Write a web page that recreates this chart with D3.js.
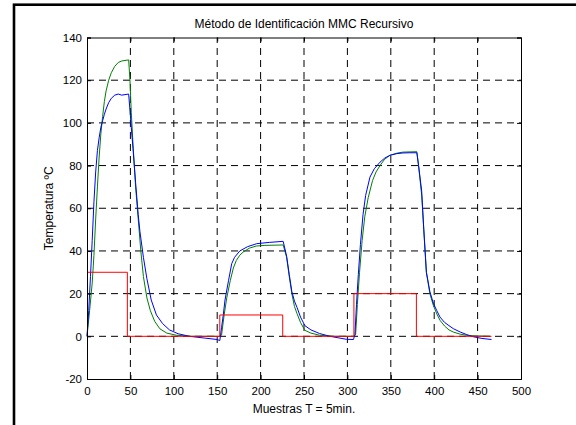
<!DOCTYPE html>
<html>
<head>
<meta charset="utf-8">
<script src="https://cdn.jsdelivr.net/npm/d3@7"></script>
<style>
body { margin: 0; background: #fff; }
text { font-family: Arial, "Liberation Sans", sans-serif; fill: #000; }
</style>
</head>
<body>
<script>
var w = 576;
var h = 425;
var padLeft = 87, padRight = 521, padTop = 37.5, padBottom = 379;

var xTicks = [0, 50, 100, 150, 200, 250, 300, 350, 400, 450, 500];
var yTicks = [-20, 0, 20, 40, 60, 80, 100, 120, 140];

// entrada (escalon)
var redX = [0, 46.5, 46.5, 153, 153, 225.5, 225.5, 307.5, 307.5, 379.5, 379.5, 466];
var redY = [30, 30, 0, 0, 10, 10, 0, 0, 20, 20, 0, 0];

// salida real
var greenX = [0, 3, 6, 8, 10, 12, 14, 16, 18, 20, 22, 25, 28, 32, 36, 40, 48,
    49.5, 51, 53, 56, 59, 62, 65, 69, 73, 78, 84, 92, 103, 120, 153,
    155, 158, 161, 165, 168.6, 172, 176, 180, 187, 195, 205, 226,
    230, 233, 236, 239, 242, 246, 251, 258, 268, 285, 308,
    309.5, 311.5, 314, 317, 320, 324, 329, 333, 337.6, 343, 349, 357, 364, 380,
    382, 385.6, 388, 391, 395, 399, 403, 406.7, 412, 417, 422, 430, 440, 465];
var greenY = [0, 12, 25, 38, 55, 70, 84, 95, 103, 110, 115, 120, 123.5, 126.5, 128.3, 129, 129.5,
    120, 105, 90, 70, 55, 40, 28, 18, 12, 7, 3.5, 1.5, 0.5, 0, 0,
    0.5, 10, 18, 26, 32, 35.5, 38, 39.5, 41.3, 42.3, 42.6, 42.8,
    37, 28, 20, 14, 10.6, 6.5, 2.8, 1.5, 0.5, 0, 0,
    1, 15, 30, 45, 56, 65, 73, 77, 80, 83, 84.8, 85.8, 86.3, 86.5,
    80, 66, 50, 30, 20, 14.5, 10.5, 7.5, 4.8, 3, 2, 1, 0.3, 0];

// salida estimada MMC
var blueX = [0, 2, 4, 6, 8, 10, 12, 14, 16, 18, 20, 22, 25, 28, 32, 36, 40, 48,
    49.5, 51, 53, 56, 59, 61, 65, 69, 74, 80, 87, 95, 105, 118, 135, 150, 153,
    155, 157, 159, 163, 166.7, 170, 176, 185, 195.5, 210, 226,
    230, 233, 236, 239, 242, 246, 251, 258, 268, 280, 299, 307,
    308.7, 310.5, 312.6, 315, 318, 321, 326, 331, 337.6, 343, 349, 357, 364, 372, 380,
    382, 385.6, 388, 391, 395, 399, 403, 406.7, 412, 417, 422, 430, 437.5, 445, 455, 466];
var blueY = [0, 12, 28, 45, 63, 77, 87, 93, 98, 101, 104, 106.5, 109.5, 111.5, 113, 113.5, 113, 113.5,
    106, 98, 88, 72, 57, 49, 37, 27, 17, 10, 6, 3, 1.2, 0, -0.8, -1.5, -2,
    4, 10, 17, 26, 34, 37, 40, 42, 43.4, 44, 44.5,
    37.5, 29, 21, 16.5, 13.5, 9, 5, 3, 1.3, 0, -1.4, -1.5,
    1, 15, 29, 43, 57, 66, 74.6, 78.5, 81.6, 83.5, 84.8, 85.6, 85.9, 86, 86,
    80, 68, 50, 30, 21, 15.5, 12, 9, 6.5, 5, 3.6, 2, 0.8, -0.2, -1, -1.5];

var svg = d3.select("body")
    .append("svg")
    .attr("width", w)
    .attr("height", h);

svg.append("rect")
    .attr("width", w)
    .attr("height", h)
    .attr("fill", "#fff");

// marco de la figura
svg.append("rect")
    .attr("x", 14)
    .attr("y", 4.7)
    .attr("width", 700)
    .attr("height", 600)
    .attr("fill", "none")
    .attr("stroke", "#000")
    .attr("stroke-width", 2.6);

var xScale = d3.scaleLinear()
    .domain([0, 500])
    .range([padLeft, padRight]);

var yScale = d3.scaleLinear()
    .domain([-20, 140])
    .range([padBottom, padTop]);

// rejilla
svg.selectAll(".vgrid")
    .data(xTicks.slice(1, -1))
    .enter()
    .append("line")
    .attr("class", "vgrid")
    .attr("x1", function (d) { return xScale(d); })
    .attr("x2", function (d) { return xScale(d); })
    .attr("y1", padBottom)
    .attr("y2", padTop)
    .attr("stroke", "#000")
    .attr("stroke-dasharray", "7,5");

svg.selectAll(".hgrid")
    .data(yTicks.slice(1, -1))
    .enter()
    .append("line")
    .attr("class", "hgrid")
    .attr("x1", padLeft)
    .attr("x2", padRight)
    .attr("y1", function (d) { return yScale(d); })
    .attr("y2", function (d) { return yScale(d); })
    .attr("stroke", "#000")
    .attr("stroke-dasharray", "7,5");

var line = d3.line()
    .x(function (d) { return xScale(d[0]); })
    .y(function (d) { return yScale(d[1]); });

function series(xs, ys) {
    return xs.map(function (x, i) { return [x, ys[i]]; });
}

svg.append("path")
    .datum(series(greenX, greenY))
    .attr("d", line)
    .attr("fill", "none")
    .attr("stroke", "#008000")
    .attr("stroke-width", 1);

svg.append("path")
    .datum(series(blueX, blueY))
    .attr("d", line)
    .attr("fill", "none")
    .attr("stroke", "#0000ff")
    .attr("stroke-width", 1);

svg.append("path")
    .datum(series(redX, redY))
    .attr("d", line)
    .attr("fill", "none")
    .attr("stroke", "#ff0000")
    .attr("stroke-width", 1);

// ejes
var plainFormat = function (d) { return String(d); };
var xAxis = d3.axisBottom(xScale).tickValues(xTicks).tickSize(-4).tickPadding(8).tickFormat(plainFormat);
var yAxis = d3.axisLeft(yScale).tickValues(yTicks).tickSize(-4).tickPadding(5).tickFormat(plainFormat);

svg.append("g")
    .attr("transform", "translate(0," + padBottom + ")")
    .call(xAxis);

svg.append("g")
    .attr("transform", "translate(" + padLeft + ",0)")
    .call(yAxis);

svg.append("g")
    .attr("transform", "translate(0," + padTop + ")")
    .call(d3.axisTop(xScale).tickValues(xTicks).tickSize(-4).tickFormat(""));

svg.append("g")
    .attr("transform", "translate(" + padRight + ",0)")
    .call(d3.axisRight(yScale).tickValues(yTicks).tickSize(-4).tickFormat(""));

svg.selectAll(".domain").attr("stroke", "#000");
svg.selectAll(".tick line").attr("stroke", "#000");
svg.selectAll(".tick text")
    .style("font-size", "11.5px")
    .style("font-family", "Arial, 'Liberation Sans', sans-serif");

svg.append("text")
    .attr("x", (padLeft + padRight) / 2)
    .attr("y", 28)
    .attr("text-anchor", "middle")
    .style("font-size", "12px")
    .text("Método de Identificación MMC Recursivo");

svg.append("text")
    .attr("x", (padLeft + padRight) / 2)
    .attr("y", 413)
    .attr("text-anchor", "middle")
    .style("font-size", "12px")
    .text("Muestras T = 5min.");

svg.append("text")
    .attr("transform", "translate(53," + ((padTop + padBottom) / 2) + ") rotate(-90)")
    .attr("text-anchor", "middle")
    .style("font-size", "12px")
    .text("Temperatura ºC");
</script>
</body>
</html>
